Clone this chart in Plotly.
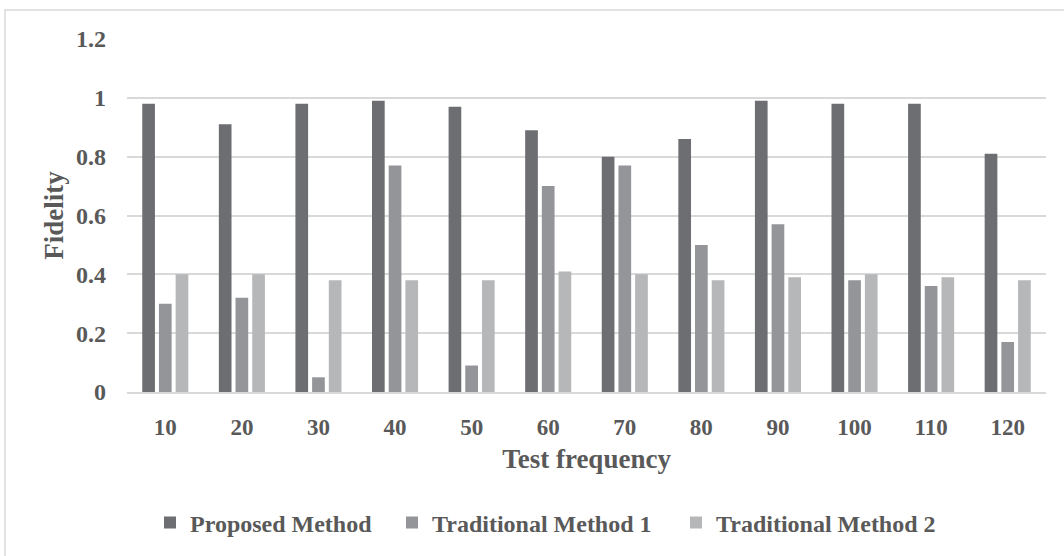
import plotly.graph_objects as go

categories = ["10", "20", "30", "40", "50", "60", "70", "80", "90", "100", "110", "120"]
proposed = [0.98, 0.91, 0.98, 0.99, 0.97, 0.89, 0.80, 0.86, 0.99, 0.98, 0.98, 0.81]
traditional1 = [0.30, 0.32, 0.05, 0.77, 0.09, 0.70, 0.77, 0.50, 0.57, 0.38, 0.36, 0.17]
traditional2 = [0.40, 0.40, 0.38, 0.38, 0.38, 0.41, 0.40, 0.38, 0.39, 0.40, 0.39, 0.38]
series_names = ["Proposed Method", "Traditional Method 1", "Traditional Method 2"]
y_ticks = [0, 0.2, 0.4, 0.6, 0.8, 1.0, 1.2]
y_tick_text = ["0", "0.2", "0.4", "0.6", "0.8", "1", "1.2"]

colors = ["#6d6e71", "#939598", "#b6b7b9"]
legend_widths = [197, 239, 240]
FONT = "Liberation Serif, Times New Roman, serif"
TXT = "#595959"

fig = go.Figure()
for name, vals, col, lw in zip(series_names, [proposed, traditional1, traditional2], colors, legend_widths):
    fig.add_trace(go.Bar(x=categories, y=vals, name=name, legendwidth=lw,
                         marker=dict(color=col, line=dict(width=0))))

L, R, T, B = 127, 18, 39, 163
W, H = 1064, 556
pw, ph = W - L - R, H - T - B

def px_x(x):
    return (x - L) / pw

def px_y(y):
    return (H - B - y) / ph

fig.update_layout(
    width=W, height=H,
    margin=dict(l=L, r=R, t=T, b=B, pad=0),
    paper_bgcolor="white", plot_bgcolor="white",
    barmode="group", bargap=0.346, bargroupgap=0.24,
    font=dict(family=FONT, color=TXT),
    showlegend=True,
    legend=dict(orientation="h", x=px_x(150), xanchor="left", y=px_y(523), yanchor="middle",
                font=dict(family=FONT, size=24, color=TXT, weight="bold"),
                bgcolor="rgba(0,0,0,0)", itemclick=False),
    xaxis=dict(
        type="category",
        showgrid=False, showline=True, linecolor="#d9d9d9", linewidth=1.5,
        ticks="", tickfont=dict(family=FONT, size=23, color=TXT, weight="bold"),
        ticklabelstandoff=14,
        title=dict(text="Test frequency", font=dict(family=FONT, size=27, color=TXT, weight="bold"), standoff=10),
    ),
    yaxis=dict(
        range=[0, 1.2], tickvals=y_ticks, ticktext=y_tick_text,
        showgrid=True, gridcolor="#d9d9d9", gridwidth=1.5,
        zeroline=False, showline=False, ticks="",
        tickfont=dict(family=FONT, size=24, color=TXT, weight="bold"),
        ticklabelstandoff=20,
        title=dict(text="Fidelity", font=dict(family=FONT, size=27, color=TXT, weight="bold"), standoff=4),
    ),
    shapes=[dict(type="rect", xref="paper", yref="paper",
                 x0=px_x(5), x1=px_x(1075), y0=px_y(570), y1=px_y(10),
                 line=dict(color="#d9d9d9", width=1.5), fillcolor="rgba(0,0,0,0)", layer="below")],
)

fig.write_html("out.html")
